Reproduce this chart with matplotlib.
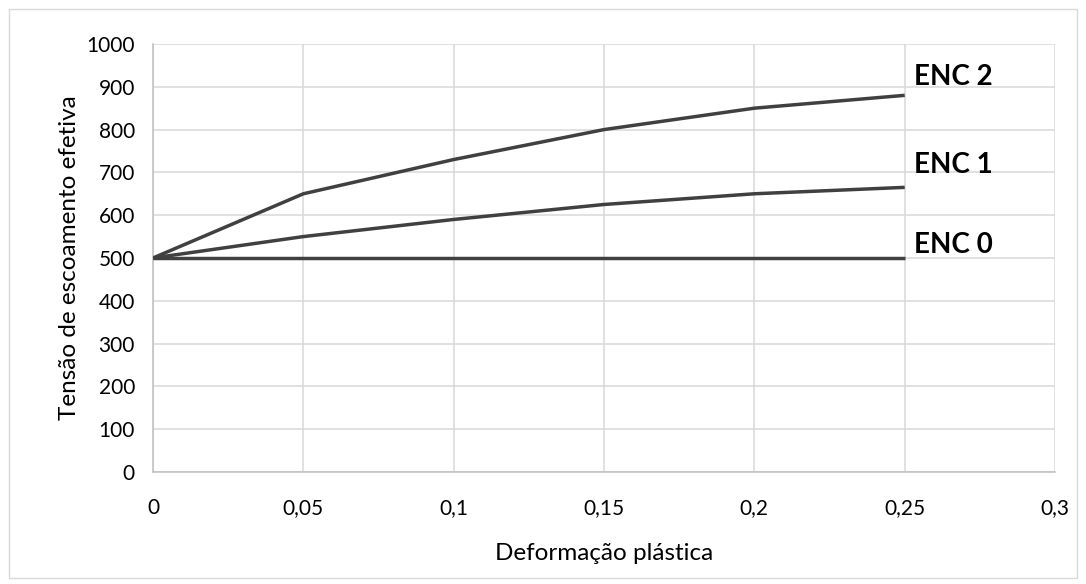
import matplotlib
matplotlib.use("Agg")
import matplotlib.pyplot as plt
from matplotlib.patches import Rectangle

# data
deform = [0, 0.05, 0.1, 0.15, 0.2, 0.25]
enc0 = [500, 500, 500, 500, 500, 500]
enc1 = [500, 550, 590, 625, 650, 665]
enc2 = [500, 650, 730, 800, 850, 880]
series = [("ENC 0", enc0, 9), ("ENC 1", enc1, 16), ("ENC 2", enc2, 13)]
xticks = [0, 0.05, 0.1, 0.15, 0.2, 0.25, 0.3]
yticks = list(range(0, 1001, 100))

LINE = "#404040"; GRID = "#d9d9d9"; TXT = "#000000"
plt.rcParams.update({"font.family": ["Lato", "DejaVu Sans"], "font.size": 15})

fig = plt.figure(figsize=(10.86, 5.84), dpi=100)
ax = fig.add_axes([0.1409, 0.1918, 0.8306, 0.7329])

for name, ys, dy in series:
    ax.plot(deform, ys, color=LINE, lw=2.5, solid_capstyle="butt", zorder=3)
    ax.annotate(name, (deform[-1], ys[-1]), xytext=(7, dy), textcoords="offset points",
                fontsize=20, fontweight="bold", va="center", ha="left", color=TXT)

ax.set_xlim(0, 0.3); ax.set_ylim(0, 1000)
ax.set_xticks(xticks)
ax.set_xticklabels([f"{t:g}".replace(".", ",") for t in xticks])
ax.set_yticks(yticks)
ax.grid(True, color=GRID, lw=1.1)
ax.tick_params(axis="x", length=0, pad=19, labelsize=15)
ax.tick_params(axis="y", length=0, pad=13, labelsize=15)
for s in ["top", "right"]:
    ax.spines[s].set_visible(False)
for s in ["left", "bottom"]:
    ax.spines[s].set_color("#bfbfbf"); ax.spines[s].set_linewidth(1.1)
ax.set_xlabel("Deformação plástica", fontsize=17.5, labelpad=18)
ax.set_ylabel("Tensão de escoamento efetiva", fontsize=17.5, labelpad=5)

fig.patches.append(Rectangle((0.008, 0.01), 0.984, 0.975, transform=fig.transFigure,
                             fill=False, edgecolor=GRID, lw=1))
fig.savefig("out.png", dpi=100)
